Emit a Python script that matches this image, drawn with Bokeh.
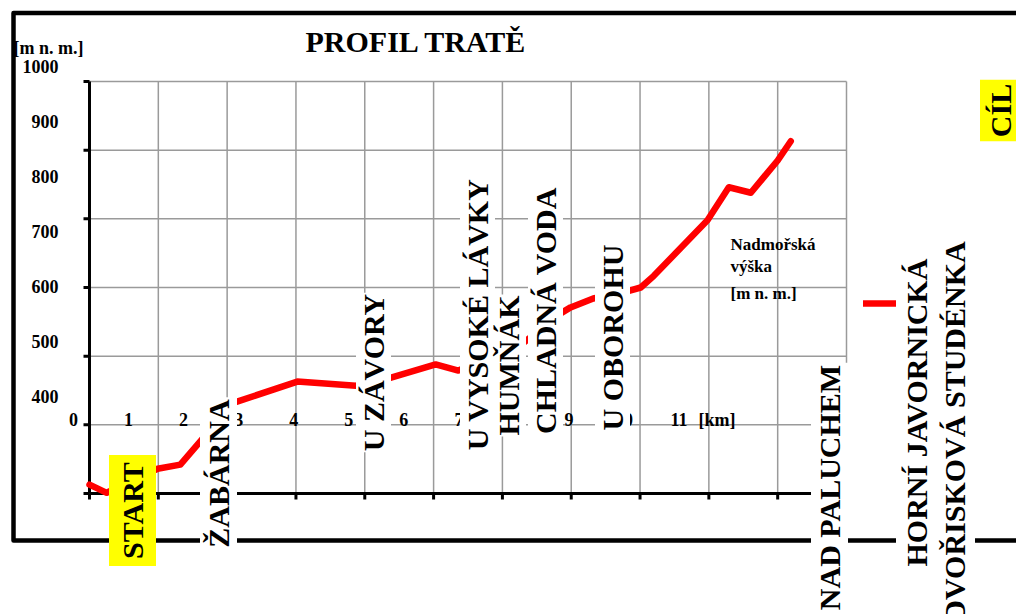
from math import pi
from bokeh.plotting import figure
from bokeh.models import Range1d, Label, Legend, LegendItem
from bokeh.core.properties import value
from bokeh.embed import file_html
from bokeh.resources import INLINE

# ---------------- data ----------------
km = [0.00, 0.25, 0.99, 1.32, 2.09, 3.02, 3.87, 4.26, 5.03, 5.36, 6.29,
      6.84, 6.99, 7.32, 7.76, 8.01, 8.20, 8.98, 9.29, 9.61, 10.00, 10.19]
elev = [413, 401, 436, 442, 532, 563, 557, 565, 588, 579, 618,
        662, 671, 684, 693, 700, 717, 798, 846, 838, 885, 913]

x_ticks = [0, 1, 2, 3, 4, 5, 6, 7, 8, 9, 10, 11]
x_tick_labels = ["0", "1", "2", "3", "4", "5", "6", "7", "8", "9", "10", "11"]
y_ticks = [400, 500, 600, 700, 800, 900, 1000]
y_tick_labels = ["400", "500", "600", "700", "800", "900", "1000"]

stations = ["START", "ŽABÁRNA", "U ZÁVORY", "U VYSOKÉ LÁVKY", "HUMŇÁK",
            "CHLADNÁ VODA", "U OBOROHU", "NAD PALUCHEM", "HORNÍ JAVORNICKÁ",
            "DVOŘISKOVÁ STUDÉNKA", "CÍL"]
title_text = "PROFIL TRATĚ"
y_unit = "[m n. m.]"
x_unit = "[km]"
series_name = ["Nadmořská", "výška", "[m n. m.]"]

# ---------------- layout ----------------
W, H = 1016, 614
PAGE = 0
PX_X0, PX_X1 = 89, 846      # page px of km 0 and km 11
PX_Y0, PX_Y1 = 493, 81      # page px of 400 m and 1000 m
XMIN, XMAX = x_ticks[0], x_ticks[-1]
YMIN, YMAX = y_ticks[0], y_ticks[-1]
SX = (PX_X1 - PX_X0) / (XMAX - XMIN)
SY = (PX_Y0 - PX_Y1) / (YMAX - YMIN)
TEXT_SCALE = 0.8            # the axis texts are drawn at 0.8 of their place


def dx(px):
    return XMIN + (px - PX_X0) / SX


def dy(py):
    return YMIN + (PX_Y0 - py) / SY


def px_of_x(v):
    return PX_X0 + (v - XMIN) * SX


def py_of_y(v):
    return PX_Y0 - (v - YMIN) * SY


FONT_NAME = "Liberation Serif"
FONT = value(FONT_NAME)

p = figure(width=W, height=H,
           x_range=Range1d(dx(PAGE), dx(PAGE + W)),
           y_range=Range1d(dy(PAGE + H), dy(PAGE)),
           x_axis_type=None, y_axis_type=None,
           toolbar_location=None, output_backend="svg",
           min_border=0, outline_line_color=None)
p.min_border_left = p.min_border_right = p.min_border_top = p.min_border_bottom = 0
p.background_fill_color = "white"
p.border_fill_color = "white"

GRID = "#9a9a9a"
# grid lines
p.segment(x0=x_ticks[1:], y0=YMIN, x1=x_ticks[1:], y1=YMAX, line_color=GRID, line_width=1.5)
p.segment(x0=XMIN, y0=y_ticks[1:], x1=XMAX, y1=y_ticks[1:], line_color=GRID, line_width=1.5)

# axis lines and ticks
p.segment(x0=[XMIN, XMIN], y0=[YMIN, YMIN], x1=[XMIN, XMAX], y1=[YMAX, YMIN],
          line_color="black", line_width=3)
p.segment(x0=dx(PX_X0 - 6), y0=y_ticks, x1=XMIN, y1=y_ticks, line_color="black", line_width=3)
p.segment(x0=x_ticks, y0=YMIN, x1=x_ticks, y1=dy(PX_Y0 + 6), line_color="black", line_width=3)

# outer frame
p.line(x=[dx(1030), dx(13), dx(13), dx(1030)], y=[dy(12.5), dy(12.5), dy(540), dy(540)],
       line_color="black", line_width=4.5, line_join="round")

# profile
prof = p.line(km, elev, line_color="#ff0000", line_width=6.5, line_join="round", line_cap="round")

# axis tick labels (drawn scaled, as in the original)
ylx = [dx(58)] * len(y_ticks)
yly = [dy(1.2 + TEXT_SCALE * py_of_y(v)) for v in y_ticks]
p.text(x=ylx, y=yly, text=y_tick_labels, text_font=FONT, text_font_style="bold",
       text_font_size="18px", text_align="right", text_baseline="middle", text_color="black")
xlx = [dx(1.8 + TEXT_SCALE * px_of_x(v)) for v in x_ticks]
xly = [dy(419)] * len(x_ticks)
p.text(x=xlx, y=xly, text=x_tick_labels, text_font=FONT, text_font_style="bold",
       text_font_size="18px", text_align="center", text_baseline="middle", text_color="black")
p.text(x=[dx(698)], y=[dy(419)], text=[x_unit], text_font=FONT, text_font_style="bold",
       text_font_size="18px", text_align="left", text_baseline="middle", text_color="black")
p.text(x=[dx(13)], y=[dy(47)], text=[y_unit], text_font=FONT, text_font_style="bold",
       text_font_size="18px", text_align="left", text_baseline="middle", text_color="black")

# series name text
p.text(x=[dx(730)] * 3, y=[dy(244), dy(266), dy(293)], text=series_name, text_font=FONT,
       text_font_style="bold", text_font_size="17px", text_align="left",
       text_baseline="middle", text_color="black")

# title
p.text(x=[dx(416)], y=[dy(41)], text=[title_text], text_font=FONT, text_font_style="bold",
       text_font_size="30px", text_align="center", text_baseline="middle", text_color="black")

# legend swatch
legend = Legend(items=[LegendItem(label=" ", renderers=[prof])],
                location=(863, H - 303 - 10), orientation="vertical",
                padding=0, margin=0, spacing=0, glyph_width=33, glyph_height=20,
                label_width=0, label_height=20, label_standoff=0,
                border_line_color=None, background_fill_alpha=0,
                label_text_font_size="1px")
p.add_layout(legend)

# station labels (page px centre, fill, padding)
station_layout = [
    (132, 510, "#ffff00", 7),
    (218, 473, "white", 2),
    (373, 372, "white", 1),
    (477, 314, "white", 1),
    (508, 365, "white", 1),
    (545, 310, "white", 1),
    (612, 337, "white", 1),
    (829, 487, "white", 2),
    (916, 412, "white", 4),
    (954, 431, "white", 4),
    (1000, 110, "#ffff00", 4),
]
for name, (cx, cy, fill, pad) in zip(stations, station_layout):
    p.add_layout(Label(x=dx(cx), y=dy(cy), text=name, angle=pi / 2,
                       text_font=FONT_NAME, text_font_style="bold", text_font_size="30px",
                       text_align="center", text_baseline="middle", text_color="black",
                       background_fill_color=fill, padding=pad))

open("out.html", "w").write(file_html(p, INLINE))
